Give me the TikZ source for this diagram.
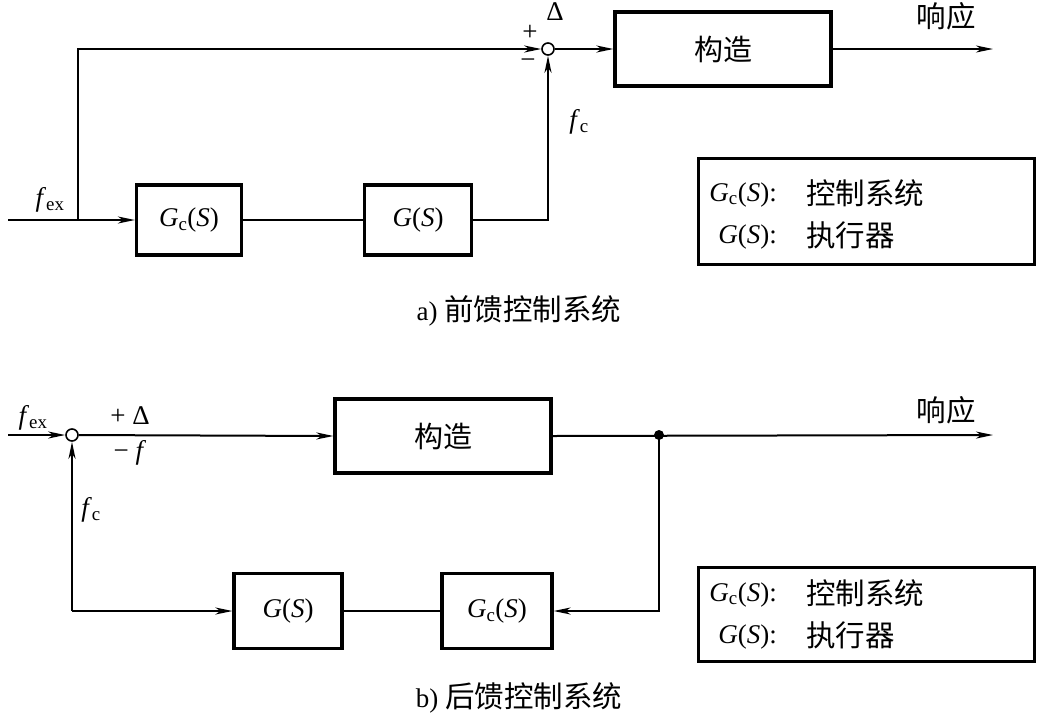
\documentclass[tikz,border=0pt]{standalone}
\usepackage{fontspec}
\setmainfont{Liberation Serif}
\newfontfamily\cjk{Noto Sans CJK SC}
\usetikzlibrary{arrows.meta,positioning,calc}
\newcommand{\Gcs}{\textit{G}\textsubscript{c}(\textit{S})}
\newcommand{\Gs}{\textit{G}(\textit{S})}
\tikzset{
  blockbox/.style={
    rectangle, draw, line width=3.2pt,
    minimum width=#1, minimum height=70pt,
    font=\fontsize{27}{30}\selectfont, inner sep=0pt
  },
  blockbox/.default=106pt,
  plantbox/.style={
    rectangle, draw, line width=3.2pt,
    minimum width=216pt, minimum height=74pt,
    font=\cjk\fontsize{29}{32}\selectfont, inner sep=0pt
  },
  legendbox/.style={
    rectangle, draw, line width=3pt, inner sep=0pt
  },
  sumnode/.style={
    circle, draw, line width=1.6pt, fill=white,
    minimum size=12pt, inner sep=0pt
  },
  sigline/.style={line width=2pt},
  sigarrow/.style={
    -{Stealth[length=17pt, width=7pt, inset=5pt]}, line width=2pt
  },
  labelnode/.style={
    font=\fontsize{27}{30}\selectfont, inner sep=0pt
  },
  cjklabel/.style={
    font=\cjk\fontsize{29.5}{32}\selectfont, inner sep=0pt
  },
}

\begin{document}
\begin{tikzpicture}[x=1pt, y=-1pt]
\useasboundingbox (0,0) rectangle (1039,716);

% ── a) feed-forward ──
\node[plantbox] (plant1) at (723,49) {构造};
\node[sumnode] (sum1) at (548,49) {};
\node[blockbox=105pt] (gc1) at (189,220) {\Gcs};
\node[blockbox=107pt] (g1) at (418,220) {\Gs};
\coordinate (in1) at (8,220);
\coordinate (tap1) at (78,220);
\coordinate (out1) at (993,49);

\draw[sigarrow] (in1) -- (gc1.west);
\draw[sigarrow] (tap1) |- (sum1);
\draw[sigline] (gc1.east) -- (g1.west);
\draw[sigarrow] (g1.east) -| (sum1);
\draw[sigarrow] (sum1) -- (plant1.west);
\draw[sigarrow] (plant1.east) -- (out1);

\node[labelnode] (fex1) at (50,200) {\textit{f}\textsubscript{ex}};
\node[labelnode] (plus1) at (530,33) {+};
\node[labelnode] (minus1) at (528,64) {−};
\node[labelnode] (delta1) at (555,12) {Δ};
\node[labelnode] (fc1) at (579,122) {\textit{f}\textsubscript{c}};
\node[cjklabel] (resp1) at (946,16) {响应};

\node[legendbox, minimum width=336pt, minimum height=106pt] (leg1) at (866.5,211.5) {};
\node[labelnode, anchor=base east] (leg1a) at (777,201) {\Gcs:};
\node[cjklabel, anchor=base west] (leg1b) at (806,204) {控制系统};
\node[labelnode, anchor=base east] (leg1c) at (777,243) {\Gs:};
\node[cjklabel, anchor=base west] (leg1d) at (806,246) {执行器};

\node[labelnode, anchor=base] (cap1) at (519,320) {a) {\cjk\fontsize{29.5}{32}\selectfont 前馈控制系统}};

% ── b) feedback ──
\node[sumnode] (sum2) at (72,435) {};
\node[plantbox] (plant2) at (443,436) {构造};
\node[blockbox=108pt, minimum height=75pt] (g2) at (288,611) {\Gs};
\node[blockbox=110pt, minimum height=75pt] (gc2) at (497,611) {\Gcs};
\coordinate (in2) at (8,435);
\coordinate (out2) at (993,435);
\coordinate (corner2) at (72,611);
\fill (659,435) circle (5pt) coordinate (tap2);

\draw[sigarrow] (in2) -- (sum2);
\draw[sigarrow] (sum2) -- (plant2.west);
\draw[sigarrow] (plant2.east) -- (out2);
\draw[sigarrow] (tap2) |- (gc2.east);
\draw[sigline] (gc2.west) -- (g2.east);
\draw[sigarrow] (corner2) -- (g2.west);
\draw[sigarrow] (corner2) -- (sum2);

\node[labelnode] (fex2) at (33,418) {\textit{f}\textsubscript{ex}};
\node[labelnode] (pd2) at (130,416) {+ Δ};
\node[labelnode] (mf2) at (130,453) {− \textit{f}};
\node[labelnode] (fc2) at (91,510) {\textit{f}\textsubscript{c}};
\node[cjklabel] (resp2) at (946,410) {响应};

\node[legendbox, minimum width=336pt, minimum height=94pt] (leg2) at (866.5,614.5) {};
\node[labelnode, anchor=base east] (leg2a) at (777,601) {\Gcs:};
\node[cjklabel, anchor=base west] (leg2b) at (806,604) {控制系统};
\node[labelnode, anchor=base east] (leg2c) at (777,643) {\Gs:};
\node[cjklabel, anchor=base west] (leg2d) at (806,646) {执行器};

\node[labelnode, anchor=base] (cap2) at (519,707) {b) {\cjk\fontsize{29.5}{32}\selectfont 后馈控制系统}};
\end{tikzpicture}
\end{document}
